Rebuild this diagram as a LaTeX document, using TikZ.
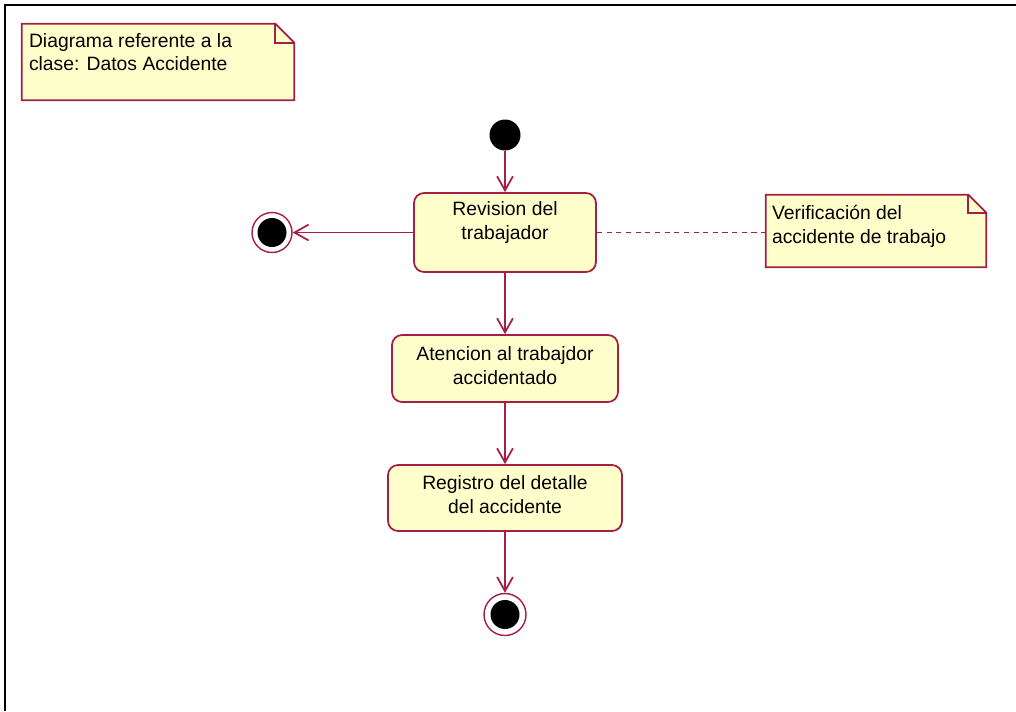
\documentclass[tikz,border=0pt]{standalone}
\usepackage{fontspec}
\setmainfont{Liberation Sans}
\usetikzlibrary{arrows.meta}

\definecolor{umlline}{RGB}{165,30,70}
\definecolor{umlfill}{RGB}{255,255,204}

\tikzset{
  txt/.style={font=\fontsize{11}{13.6}\selectfont},
  action/.style={draw=umlline, fill=umlfill, line width=1pt, rounded corners=0.2cm,
    align=center, inner ysep=4pt, text depth=3.5pt},
  startstate/.style={circle, fill=black, inner sep=0pt},
  endstate/.style={circle, draw=umlline, fill=white, line width=0.8pt, inner sep=0pt,
    path picture={\fill[black] (path picture bounding box.center) circle (0.29cm);}},
  flow/.style={draw=umlline, line width=1pt, -{Straight Barb[length=8pt,width=9pt]}},
  notebox/.style={inner sep=0pt},
  noteline/.style={draw=umlline, fill=umlfill, line width=1pt},
  notetxt/.style={anchor=north west, align=left, inner sep=0pt},
}

\begin{document}
\begin{tikzpicture}[x=0.02cm, y=-0.02cm, txt]
  \useasboundingbox (0,0) rectangle (1016,711);
  % frame
  \draw[line width=1.7pt] (5,711) -- (5,5) -- (1016,5);

  % note: class
  \node[notebox, minimum width=5.44cm, minimum height=1.52cm] (noteclase) at (158,62) {};
  \filldraw[noteline] (noteclase.north west) -- ([xshift=-0.38cm]noteclase.north east)
    -- ([yshift=-0.38cm]noteclase.north east) -- (noteclase.south east)
    -- (noteclase.south west) -- cycle;
  \draw[umlline, line width=1pt] ([xshift=-0.38cm]noteclase.north east)
    |- ([yshift=-0.38cm]noteclase.north east);
  \node[notetxt] (noteclasetxt) at ([shift={(0.14cm,-0.18cm)}]noteclase.north west)
    {Diagrama referente a la\\clase: Datos Accidente};

  % note: verification
  \node[notebox, minimum width=4.4cm, minimum height=1.44cm] (noteverif) at (876,231) {};
  \filldraw[noteline] (noteverif.north west) -- ([xshift=-0.36cm]noteverif.north east)
    -- ([yshift=-0.36cm]noteverif.north east) -- (noteverif.south east)
    -- (noteverif.south west) -- cycle;
  \draw[umlline, line width=1pt] ([xshift=-0.36cm]noteverif.north east)
    |- ([yshift=-0.36cm]noteverif.north east);
  \node[notetxt] (noteveriftxt) at ([shift={(0.12cm,-0.2cm)}]noteverif.north west)
    {Verificación del\\accidente de trabajo};

  % states and activities
  \node[startstate, minimum size=0.62cm] (inicio) at (505,135) {};
  \node[action, minimum width=3.64cm, minimum height=1.58cm, text depth=13.6pt] (revision)
    at (505,232.5) {Revision del\\trabajador};
  \node[action, minimum width=4.52cm, minimum height=1.34cm] (atencion)
    at (505,368.5) {Atencion al trabajdor\\accidentado};
  \node[action, minimum width=4.68cm, minimum height=1.32cm] (registro)
    at (505,498) {Registro del detalle\\del accidente};
  \node[endstate, minimum size=0.8cm] (finizq) at (272,232.5) {};
  \node[endstate, minimum size=0.84cm] (finabajo) at (505,614.5) {};

  % transitions
  \draw[flow] (inicio) -- (revision);
  \draw[flow] (revision) -- (finizq);
  \draw[flow] (revision) -- (atencion);
  \draw[flow] (atencion) -- (registro);
  \draw[flow] (registro) -- (finabajo);
  \draw[umlline, line width=1pt, dash pattern=on 3pt off 2.5pt]
    (revision.east) -- (revision.east -| noteverif.west);
\end{tikzpicture}
\end{document}
